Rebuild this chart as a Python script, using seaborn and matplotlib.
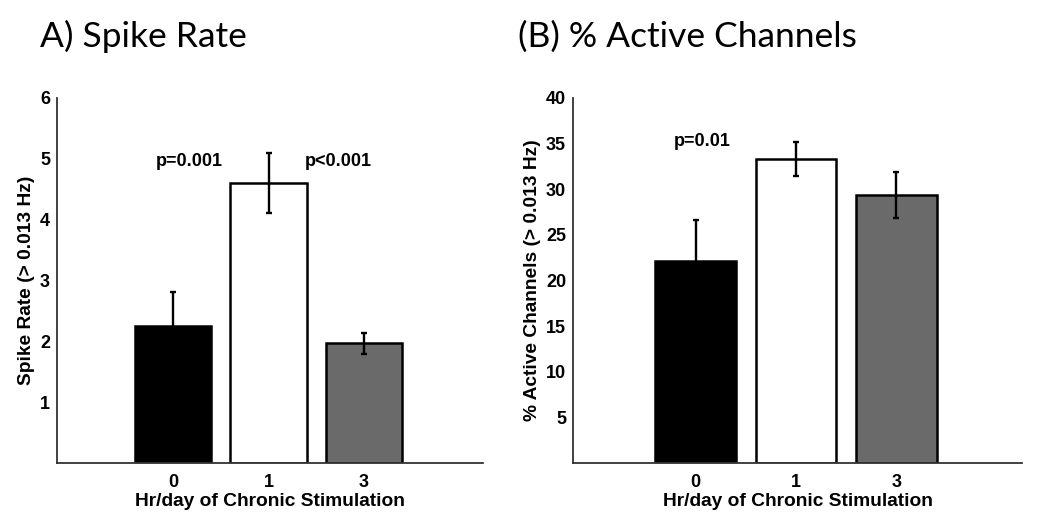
import matplotlib
matplotlib.use("Agg")
import matplotlib.pyplot as plt
import seaborn as sns
import pandas as pd

# data
hours = ["0", "1", "3"]
spike_rate = [2.26, 4.60, 1.97]
spike_err = [0.55, 0.49, 0.17]
active_pct = [22.1, 33.3, 29.4]
active_err = [4.5, 1.9, 2.5]
bar_colors = ["#000000", "#ffffff", "#6a6a6a"]

sns.set_theme(style="white")
plt.rcParams['font.family'] = ['Liberation Sans', 'DejaVu Sans']
plt.rcParams['text.color'] = 'black'
plt.rcParams['axes.labelcolor'] = 'black'

fig = plt.figure(figsize=(10.5, 5.15), dpi=100)
ax1 = fig.add_axes([57 / 1050, 1 - 463 / 515, (483 - 57) / 1050, (463 - 98) / 515])
ax2 = fig.add_axes([573 / 1050, 1 - 463 / 515, (1022 - 573) / 1050, (463 - 98) / 515])


def draw_panel(ax, vals, errs, ymax, yticks, ylabel, lpad):
    df = pd.DataFrame({"hr": hours, "val": vals})
    sns.barplot(data=df, x="hr", y="val", hue="hr", palette=bar_colors,
                edgecolor="black", linewidth=1.8, width=0.8, legend=False,
                saturation=1, ax=ax)
    ax.errorbar(range(len(vals)), vals, yerr=errs, fmt="none",
                ecolor="black", elinewidth=1.7, capsize=2, capthick=1.7)
    ax.set_xlim(-1.22, 3.25)
    ax.set_ylim(0, ymax)
    ax.set_yticks(yticks)
    ax.set_yticklabels([str(t) for t in yticks], fontweight="bold", fontsize=13)
    ax.set_xticks(range(len(hours)))
    ax.set_xticklabels(hours, fontweight="bold", fontsize=13)
    ax.tick_params(axis="y", direction="in", length=4, width=1, pad=5,
                   color="#333333", labelcolor="black")
    ax.tick_params(axis="x", length=0, pad=8, labelcolor="black")
    ax.set_xlabel("Hr/day of Chronic Stimulation", fontweight="bold",
                  fontsize=13.8, labelpad=1)
    ax.set_ylabel(ylabel, fontweight="bold", fontsize=13.8, labelpad=lpad)
    for s in ["top", "right"]:
        ax.spines[s].set_visible(False)
    for s in ["left", "bottom"]:
        ax.spines[s].set_color("#333333")
        ax.spines[s].set_linewidth(1.3)


draw_panel(ax1, spike_rate, spike_err, 6, [1, 2, 3, 4, 5, 6], "Spike Rate (> 0.013 Hz)", 3.5)
draw_panel(ax2, active_pct, active_err, 40, [5, 10, 15, 20, 25, 30, 35, 40],
           "% Active Channels (> 0.013 Hz)", 3.5)

ax1.text(0.17, 4.95, "p=0.001", ha="center", va="center", fontweight="bold", fontsize=13)
ax1.text(1.73, 4.95, "p<0.001", ha="center", va="center", fontweight="bold", fontsize=13)
ax2.text(0.07, 35.2, "p=0.01", ha="center", va="center", fontweight="bold", fontsize=13)

fig.text(40 / 1050, 1 - 47 / 515, "A) Spike Rate", fontsize=25.5, family=["Lato", "DejaVu Sans"],
         ha="left", va="baseline")
fig.text(518 / 1050, 1 - 47 / 515, "(B) % Active Channels", fontsize=25.5,
         family=["Lato", "DejaVu Sans"], ha="left", va="baseline")

fig.savefig("out.png", dpi=100)
